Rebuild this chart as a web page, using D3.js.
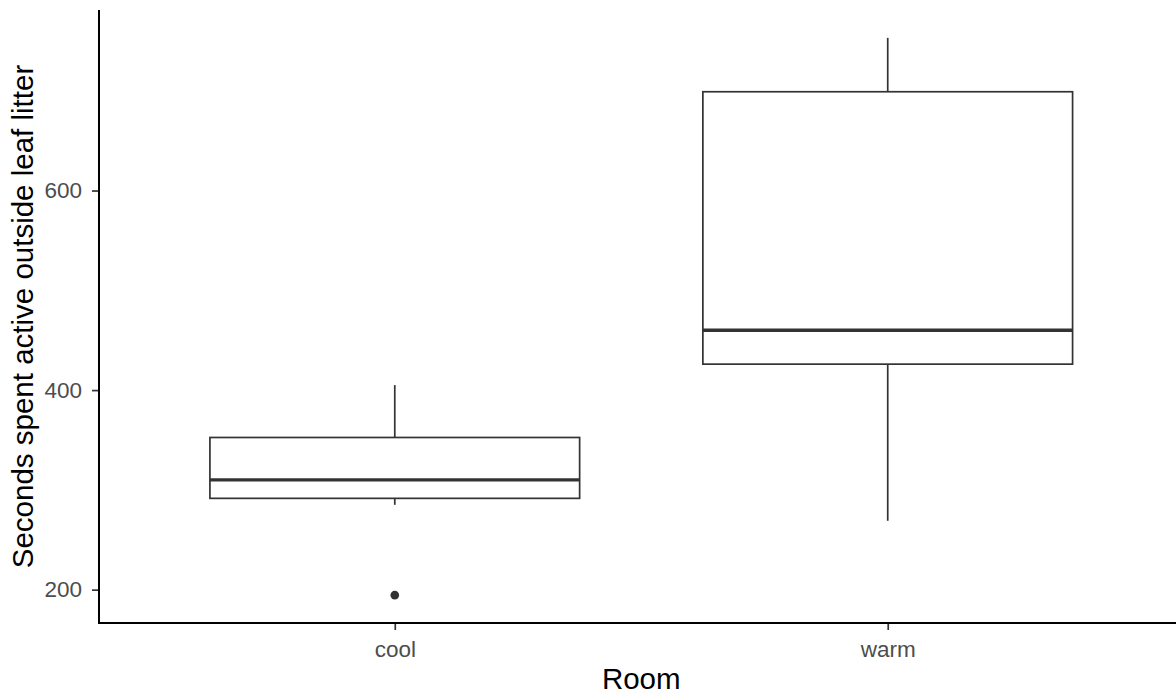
<!DOCTYPE html>
<html>
<head>
    <meta charset="utf-8">
    <script src="https://d3js.org/d3.v7.min.js"></script>
    <style>
        body { margin: 0; padding: 0; background: #fff; overflow: hidden; }
        text { font-family: "Liberation Sans", Arial, sans-serif; }
    </style>
</head>
<body>
<script>
    // box stats per room
    var rooms = ["cool", "warm"];
    var lowerWhisker = [285, 269];
    var lowerHinge = [291.5, 426];
    var medians = [310, 460];
    var upperHinge = [352.5, 699];
    var upperWhisker = [405, 753];
    var outliers = [[194.5], []];
    var yTicks = [200, 400, 600];

    var width = 1176, height = 697;
    var pLeft = 99, pRight = 1183.5, pTop = 10, pBottom = 623;

    var svg = d3.select("body").append("svg")
        .attr("width", width)
        .attr("height", height);

    var lo = d3.min([d3.min(lowerWhisker), d3.min(outliers.flat())]),
        hi = d3.max(upperWhisker);
    var pad = (hi - lo) * 0.05;

    var y = d3.scaleLinear().domain([lo - pad, hi + pad]).range([pBottom, pTop]);
    var x = d3.scalePoint().domain(rooms).range([pLeft, pRight]).padding(0.6);
    var boxW = x.step() * 0.75;

    var boxes = rooms.map(function (r, i) {
        return {
            room: r, lw: lowerWhisker[i], q1: lowerHinge[i], med: medians[i],
            q3: upperHinge[i], uw: upperWhisker[i], out: outliers[i]
        };
    });

    var g = svg.append("g");
    var box = g.selectAll("g.box").data(boxes).enter().append("g").attr("class", "box");

    // whiskers
    box.append("line")
        .attr("x1", d => x(d.room)).attr("x2", d => x(d.room))
        .attr("y1", d => y(d.uw)).attr("y2", d => y(d.q3))
        .attr("stroke", "#333").attr("stroke-width", 1.7);
    box.append("line")
        .attr("x1", d => x(d.room)).attr("x2", d => x(d.room))
        .attr("y1", d => y(d.q1)).attr("y2", d => y(d.lw))
        .attr("stroke", "#333").attr("stroke-width", 1.7);

    box.append("rect")
        .attr("x", d => x(d.room) - boxW / 2)
        .attr("width", boxW)
        .attr("y", d => y(d.q3))
        .attr("height", d => y(d.q1) - y(d.q3))
        .attr("fill", "#fff")
        .attr("stroke", "#333")
        .attr("stroke-width", 1.7);

    box.append("line")
        .attr("x1", d => x(d.room) - boxW / 2).attr("x2", d => x(d.room) + boxW / 2)
        .attr("y1", d => y(d.med)).attr("y2", d => y(d.med))
        .attr("stroke", "#333").attr("stroke-width", 3.4);

    box.selectAll("circle").data(d => d.out.map(v => ({ room: d.room, v: v })))
        .enter().append("circle")
        .attr("cx", d => x(d.room))
        .attr("cy", d => y(d.v))
        .attr("r", 4.3)
        .attr("fill", "#333");

    // axes
    var yAxis = d3.axisLeft(y).tickValues(yTicks).tickSize(7).tickPadding(10);
    var xAxis = d3.axisBottom(x).tickSize(7).tickPadding(11);

    var ya = svg.append("g").attr("transform", "translate(" + pLeft + ",0)").call(yAxis);
    var xa = svg.append("g").attr("transform", "translate(0," + pBottom + ")").call(xAxis);

    [ya, xa].forEach(function (a) {
        a.select(".domain").remove();
        a.attr("font-family", null).attr("font-size", null);
        a.selectAll(".tick line").attr("stroke", "#333").attr("stroke-width", 1.7);
        a.selectAll(".tick text").attr("fill", "#4d4d4d").style("font-size", "22.5px");
    });

    svg.append("line")
        .attr("x1", pLeft).attr("x2", pLeft)
        .attr("y1", pTop).attr("y2", pBottom + 1)
        .attr("stroke", "#000").attr("stroke-width", 2);
    svg.append("line")
        .attr("x1", pLeft - 1).attr("x2", width)
        .attr("y1", pBottom).attr("y2", pBottom)
        .attr("stroke", "#000").attr("stroke-width", 2);

    svg.append("text")
        .attr("x", (pLeft + pRight) / 2)
        .attr("y", 689)
        .attr("text-anchor", "middle")
        .style("font-size", "29.5px")
        .attr("fill", "#000")
        .text("Room");

    svg.append("text")
        .attr("transform", "translate(33," + ((pTop + pBottom) / 2) + ") rotate(-90)")
        .attr("text-anchor", "middle")
        .style("font-size", "29.5px")
        .attr("fill", "#000")
        .text("Seconds spent active outside leaf litter");
</script>
</body>
</html>
